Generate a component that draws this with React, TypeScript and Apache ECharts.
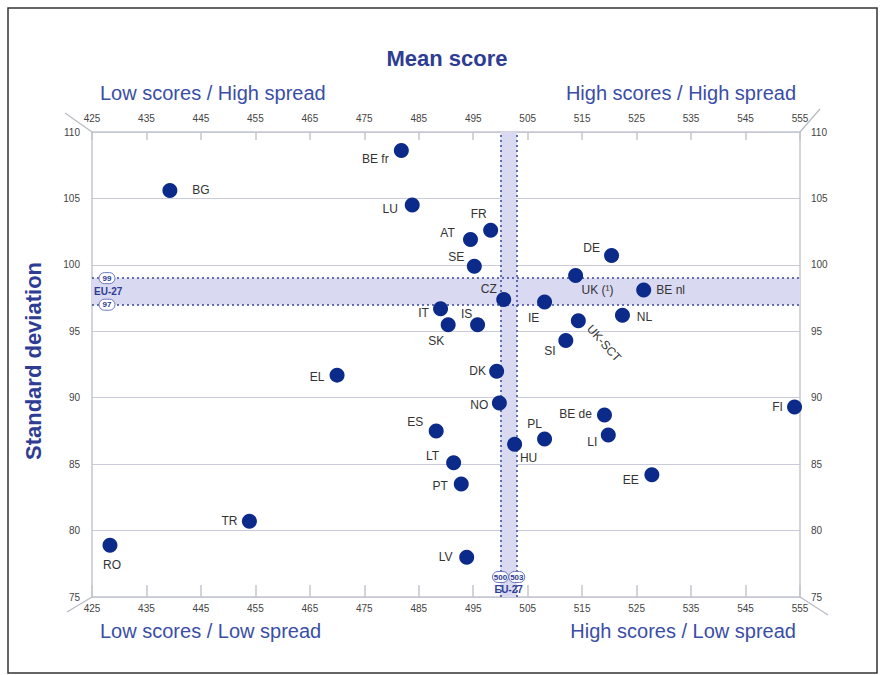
import React, { useEffect, useRef } from "react";
import * as echarts from "echarts";

// ---- Data ----
const countries = [
  "BE fr", "BG", "LU", "FR", "AT", "SE", "DE", "UK (¹)", "BE nl", "CZ", "IE",
  "IT", "IS", "SK", "UK-SCT", "NL", "SI", "EL", "DK", "NO", "FI", "BE de",
  "LI", "ES", "PL", "HU", "LT", "EE", "PT", "TR", "RO", "LV",
];
const meanScores = [
  481.8, 439.3, 483.8, 498.2, 494.5, 495.2, 520.4, 513.8, 526.3, 500.6, 508.1,
  489.0, 495.8, 490.4, 514.3, 522.4, 512.0, 470.0, 499.3, 499.8, 554.0, 519.1,
  519.8, 488.2, 508.1, 502.6, 491.4, 527.8, 492.8, 453.9, 428.3, 493.8,
];
const stdDeviations = [
  108.6, 105.6, 104.5, 102.6, 101.9, 99.9, 100.7, 99.2, 98.1, 97.4, 97.2,
  96.7, 95.5, 95.5, 95.8, 96.2, 94.3, 91.7, 92.0, 89.6, 89.3, 88.7,
  87.2, 87.5, 86.9, 86.5, 85.1, 84.2, 83.5, 80.7, 78.9, 78.0,
];
const xTickValues = [425, 435, 445, 455, 465, 475, 485, 495, 505, 515, 525, 535, 545, 555];
const yRange = [75, 110];
const euMeanBand = [500, 503];
const euSdBand = [97, 99];

// label placement (offset of label centre from point centre, in px)
const labelPlacement: Record<string, { dx: number; dy: number; rotate?: number }> = {
  "BE fr": { dx: -26, dy: 8 },
  BG: { dx: 31, dy: 0 },
  LU: { dx: -22, dy: 4 },
  FR: { dx: -12, dy: -16 },
  AT: { dx: -23, dy: -7 },
  SE: { dx: -18, dy: -9 },
  DE: { dx: -20, dy: -8 },
  "UK (¹)": { dx: 22, dy: 15 },
  "BE nl": { dx: 27, dy: 0 },
  CZ: { dx: -15, dy: -10 },
  IE: { dx: -11, dy: 16 },
  IT: { dx: -17, dy: 4 },
  IS: { dx: -11, dy: -11 },
  SK: { dx: -12, dy: 16 },
  "UK-SCT": { dx: 34, dy: -4, rotate: -48 },
  NL: { dx: 22, dy: 2 },
  SI: { dx: -16, dy: 10 },
  EL: { dx: -20, dy: 2 },
  DK: { dx: -19, dy: 0 },
  NO: { dx: -20, dy: 2 },
  FI: { dx: -17, dy: 0 },
  "BE de": { dx: -29, dy: -1 },
  LI: { dx: -16, dy: 7 },
  ES: { dx: -21, dy: -9 },
  PL: { dx: -10, dy: -15 },
  HU: { dx: 14, dy: 14 },
  LT: { dx: -21, dy: -7 },
  EE: { dx: -21, dy: 5 },
  PT: { dx: -21, dy: 2 },
  TR: { dx: -20, dy: 0 },
  RO: { dx: 2, dy: 20 },
  LV: { dx: -21, dy: 0 },
};

const SANS = "'Liberation Sans', Arial, sans-serif";
const NARROW = "'Liberation Sans Narrow', 'Liberation Sans', Arial, sans-serif";
const AXIS_GRAY = "#c4c6d0";
const BLUE_DARK = "#2e3c94";
const BLUE_MID = "#3a4ea6";
const DOT_BLUE = "#0b2a8a";
const BAND = "#d9d9f1";

export default function App() {
  const ref = useRef<HTMLDivElement>(null);

  useEffect(() => {
    document.body.style.margin = "0";
    if (!ref.current) return;
    const chart = echarts.init(ref.current, undefined, { renderer: "svg" });

    const pointData = countries.map((name, i) => {
      const p = labelPlacement[name] || { dx: 0, dy: 0 };
      return {
        name,
        value: [meanScores[i], stdDeviations[i]],
        label: { offset: [p.dx, p.dy], rotate: p.rotate || 0 },
      };
    });

    const axisLabelBase = { fontSize: 10, color: "#444", fontFamily: NARROW };

    const option: any = {
      animation: false,
      backgroundColor: "#ffffff",
      grid: { left: 92, right: 80, top: 132, bottom: 78, containLabel: false },
      xAxis: [
        {
          type: "value",
          position: "bottom",
          min: xTickValues[0],
          max: xTickValues[xTickValues.length - 1],
          interval: 10,
          axisLine: { show: true, onZero: false, lineStyle: { color: AXIS_GRAY, width: 1.5 } },
          axisTick: { show: true, inside: true, length: 12, customValues: xTickValues, lineStyle: { color: AXIS_GRAY, width: 1.5 } },
          axisLabel: { ...axisLabelBase, customValues: xTickValues, margin: 6 },
          splitLine: { show: false },
        },
        {
          type: "value",
          position: "top",
          min: xTickValues[0],
          max: xTickValues[xTickValues.length - 1],
          interval: 10,
          axisLine: { show: true, onZero: false, lineStyle: { color: AXIS_GRAY, width: 1.5 } },
          axisTick: { show: true, inside: true, length: 8, customValues: xTickValues, lineStyle: { color: AXIS_GRAY, width: 1.5 } },
          axisLabel: { ...axisLabelBase, customValues: xTickValues, margin: 9 },
          splitLine: { show: false },
        },
      ],
      yAxis: [
        {
          type: "value",
          position: "left",
          min: yRange[0],
          max: yRange[1],
          interval: 5,
          axisLine: { show: true, onZero: false, lineStyle: { color: AXIS_GRAY, width: 1.5 } },
          axisTick: { show: false },
          axisLabel: { ...axisLabelBase, margin: 12 },
          splitLine: { show: true, lineStyle: { color: "#c9cbdc", width: 1 } },
        },
        {
          type: "value",
          position: "right",
          min: yRange[0],
          max: yRange[1],
          interval: 5,
          axisLine: { show: true, onZero: false, lineStyle: { color: AXIS_GRAY, width: 1.5 } },
          axisTick: { show: false },
          axisLabel: { ...axisLabelBase, margin: 11 },
          splitLine: { show: false },
        },
      ],
      series: [
        {
          type: "scatter",
          xAxisIndex: 0,
          yAxisIndex: 0,
          z: 3,
          symbol: "circle",
          symbolSize: 15,
          itemStyle: { color: DOT_BLUE, opacity: 1 },
          label: {
            show: true,
            position: "inside",
            formatter: (p: any) => p.name,
            color: "#333",
            fontSize: 12,
            fontFamily: SANS,
          },
          data: pointData,
          markArea: {
            silent: true,
            z: 1,
            itemStyle: { color: BAND, borderWidth: 0 },
            data: [
              [{ yAxis: euSdBand[0] }, { yAxis: euSdBand[1] }],
              [{ xAxis: euMeanBand[0] }, { xAxis: euMeanBand[1] }],
            ],
          },
          markLine: {
            silent: true,
            z: 1.5,
            symbol: "none",
            label: { show: false },
            lineStyle: { color: "#34449a", type: [2, 3], width: 1.5 },
            data: [
              { yAxis: euSdBand[0] },
              { yAxis: euSdBand[1] },
              { xAxis: euMeanBand[0] },
              { xAxis: euMeanBand[1] },
            ],
          },
        },
      ],
    };

    chart.setOption(option);

    const px = (x: number, y: number) =>
      chart.convertToPixel({ gridIndex: 0 }, [x, y]) as number[];

    const x0 = xTickValues[0];
    const x1 = xTickValues[xTickValues.length - 1];
    const tl = px(x0, yRange[1]);
    const tr = px(x1, yRange[1]);
    const bl = px(x0, yRange[0]);
    const br = px(x1, yRange[0]);

    const diag = (a: number[], dx: number, dy: number) => ({
      type: "line",
      shape: { x1: a[0], y1: a[1], x2: a[0] + dx, y2: a[1] + dy },
      style: { stroke: "#b8bac4", lineWidth: 1.2 },
      z: 5,
    });

    const badge = (cx: number, cy: number, text: string) => ({
      type: "group",
      z: 20,
      children: [
        {
          type: "rect",
          shape: { x: cx - 8, y: cy - 5.5, width: 16, height: 11, r: 5.5 },
          style: { fill: "#ffffff", stroke: "#6a78bf", lineWidth: 1 },
          z: 20,
        },
        {
          type: "text",
          x: cx,
          y: cy,
          style: {
            text,
            fill: BLUE_DARK,
            font: `bold 8px ${NARROW}`,
            align: "center",
            verticalAlign: "middle",
          },
          z: 21,
        },
      ],
    });

    const sdTop = px(x0, euSdBand[1]);
    const sdBot = px(x0, euSdBand[0]);
    const mLeft = px(euMeanBand[0], yRange[0]);
    const mRight = px(euMeanBand[1], yRange[0]);

    chart.setOption({
      graphic: [
        {
          type: "rect",
          shape: { x: 8, y: 8, width: 869, height: 665 },
          style: { fill: "none", stroke: "#333", lineWidth: 1.5 },
          z: 30,
        },
        {
          type: "text",
          x: 447,
          y: 58,
          style: { text: "Mean score", fill: BLUE_DARK, font: `bold 22px ${SANS}`, align: "center", verticalAlign: "middle" },
        },
        {
          type: "text",
          x: 100,
          y: 93,
          style: { text: "Low scores / High spread", fill: BLUE_MID, font: `20px ${SANS}`, align: "left", verticalAlign: "middle" },
        },
        {
          type: "text",
          x: 796,
          y: 93,
          style: { text: "High scores / High spread", fill: BLUE_MID, font: `20px ${SANS}`, align: "right", verticalAlign: "middle" },
        },
        {
          type: "text",
          x: 100,
          y: 631,
          style: { text: "Low scores / Low spread", fill: BLUE_MID, font: `20px ${SANS}`, align: "left", verticalAlign: "middle" },
        },
        {
          type: "text",
          x: 796,
          y: 631,
          style: { text: "High scores / Low spread", fill: BLUE_MID, font: `20px ${SANS}`, align: "right", verticalAlign: "middle" },
        },
        {
          type: "text",
          x: 33,
          y: 361,
          rotation: Math.PI / 2,
          style: { text: "Standard deviation", fill: BLUE_DARK, font: `bold 22px ${SANS}`, align: "center", verticalAlign: "middle" },
        },
        diag(tl, -27, -19),
        diag(tr, 20, -23),
        diag(bl, -25, 15),
        diag(br, 28, 18),
        badge(sdTop[0] + 15, sdTop[1], String(euSdBand[1])),
        badge(sdBot[0] + 15, sdBot[1], String(euSdBand[0])),
        {
          type: "text",
          x: sdTop[0] + 2,
          y: (sdTop[1] + sdBot[1]) / 2,
          z: 21,
          style: { text: "EU-27", fill: BLUE_DARK, font: `bold 10px ${NARROW}`, align: "left", verticalAlign: "middle" },
        },
        badge(mLeft[0], mLeft[1] - 20, String(euMeanBand[0])),
        badge(mRight[0], mRight[1] - 20, String(euMeanBand[1])),
        {
          type: "text",
          x: (mLeft[0] + mRight[0]) / 2,
          y: mLeft[1] - 8,
          z: 21,
          style: { text: "EU-27", fill: BLUE_DARK, font: `bold 10px ${NARROW}`, align: "center", verticalAlign: "middle" },
        },
      ],
    });

    return () => chart.dispose();
  }, []);

  return <div ref={ref} style={{ width: 880, height: 675 }} />;
}
